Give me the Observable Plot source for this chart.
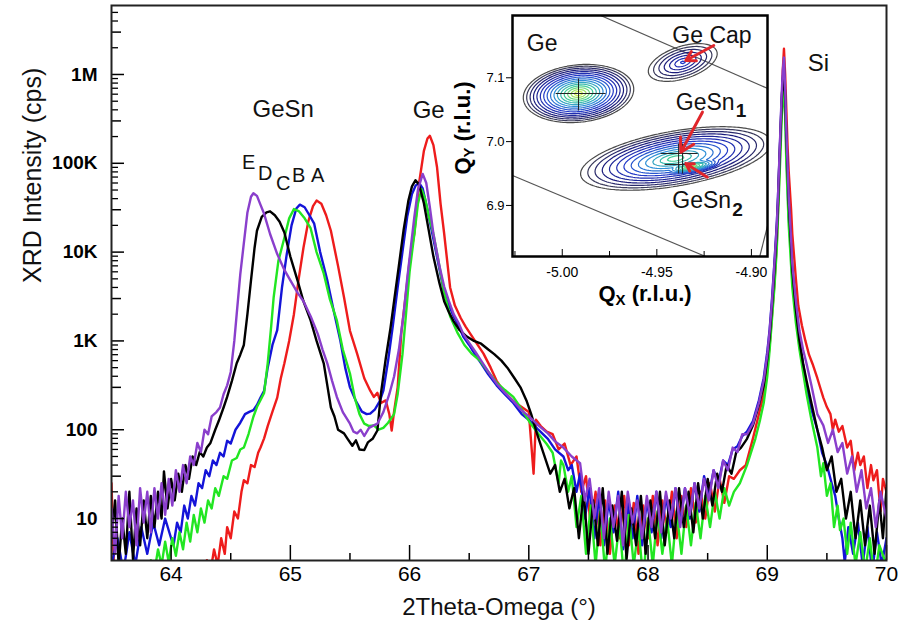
<!DOCTYPE html>
<html><head><meta charset="utf-8">
<script src="https://cdn.jsdelivr.net/npm/d3@7"></script>
<script src="https://cdn.jsdelivr.net/npm/@observablehq/plot@0.6"></script>
<style>
body{margin:0;background:#fff;}
#wrap{position:relative;width:900px;height:621px;font-family:"Liberation Sans",Arial,sans-serif;overflow:hidden;}
#wrap svg{position:absolute;}
.lab{position:absolute;font-weight:bold;font-size:22px;color:#000;white-space:nowrap;line-height:1;}
.lab sub{font-size:15px;vertical-align:-4px;}
</style></head><body><div id="wrap"></div><script>
// ---------------- main chart data: [2Theta (deg), intensity (cps)] ----------------
const seriesA = [[63.50,25],[63.52,3],[63.55,2],[64.25,2],[64.30,3.4],[64.33,2.5],[64.36,4.5],[64.39,3],[64.42,6],[64.45,4],[64.47,8],[64.50,6],[64.53,12],[64.56,10],[64.59,20],[64.61,27],[64.64,25],[64.67,40],[64.70,38],[64.73,55],[64.75,63],[64.78,80],[64.81,110],[64.85,160],[64.89,230],[64.92,380],[64.95,560],[64.99,1000],[65.03,2000],[65.07,5000],[65.11,11200],[65.15,22000],[65.19,33000],[65.22,38000],[65.26,35000],[65.30,26000],[65.34,17400],[65.40,7000],[65.45,3100],[65.50,1300],[65.56,720],[65.62,380],[65.67,275],[65.70,234],[65.73,260],[65.76,200],[65.80,214],[65.83,150],[65.85,98],[65.87,160],[65.90,300],[65.93,1200],[65.97,3500],[66.00,8000],[66.04,16200],[66.08,60000],[66.12,138000],[66.15,190000],[66.17,204000],[66.20,160000],[66.23,91000],[66.26,35000],[66.29,16200],[66.34,4000],[66.38,2500],[66.43,1800],[66.47,1450],[66.51,1200],[66.56,950],[66.62,720],[66.68,500],[66.73,355],[66.80,260],[66.87,210],[66.94,180],[67.00,158],[67.04,32],[67.06,130],[67.10,110],[67.15,95],[67.20,89],[67.25,60],[67.30,70],[67.35,40],[67.40,50],[67.44,20],[67.48,30],[67.52,8],[67.56,20],[67.60,5],[67.64,16],[67.68,4],[67.72,14],[67.76,6],[67.80,18],[67.84,5],[67.88,15],[67.92,4],[67.96,14],[68.00,6],[68.04,18],[68.08,5],[68.12,16],[68.16,7],[68.20,20],[68.24,6],[68.28,18],[68.32,8],[68.36,22],[68.40,9],[68.44,20],[68.48,10],[68.52,25],[68.56,12],[68.60,28],[68.64,15],[68.68,30],[68.72,28],[68.77,35],[68.82,40],[68.88,80],[68.93,150],[68.97,250],[69.00,500],[69.02,900],[69.04,2000],[69.06,4500],[69.08,13000],[69.09,30000],[69.10,70000],[69.11,170000],[69.12,400000],[69.13,1100000],[69.14,1950000],[69.15,1000000],[69.16,400000],[69.17,160000],[69.18,80000],[69.20,30000],[69.21,16000],[69.24,5000],[69.26,2500],[69.29,1500],[69.32,1000],[69.35,700],[69.38,550],[69.42,380],[69.45,280],[69.47,230],[69.50,180],[69.53,150],[69.55,100],[69.57,130],[69.60,95],[69.63,110],[69.67,63],[69.70,75],[69.73,35],[69.76,55],[69.78,40],[69.81,50],[69.84,22],[69.87,40],[69.89,27],[69.92,35],[69.95,12],[69.97,28],[70.00,20]];

const seriesB = [[63.50,3],[63.55,6],[63.60,2.5],[63.65,7],[63.70,3],[63.75,8],[63.80,4],[63.85,9],[63.90,5],[63.95,10],[64.00,6],[64.02,5],[64.05,9],[64.08,7],[64.11,14],[64.14,10],[64.17,18],[64.20,14],[64.23,25],[64.26,22],[64.29,35],[64.32,30],[64.35,45],[64.38,40],[64.41,55],[64.44,50],[64.47,75],[64.50,70],[64.54,100],[64.58,120],[64.62,150],[64.66,160],[64.69,166],[64.72,190],[64.75,230],[64.78,275],[64.81,500],[64.85,900],[64.89,1320],[64.93,4000],[64.97,9500],[65.01,20000],[65.05,31000],[65.08,34200],[65.12,32000],[65.16,26000],[65.20,20900],[65.25,10000],[65.31,4800],[65.36,2300],[65.42,1000],[65.46,500],[65.50,300],[65.55,210],[65.60,160],[65.64,150],[65.67,152],[65.71,170],[65.75,210],[65.78,275],[65.82,600],[65.86,1500],[65.90,4000],[65.94,10000],[65.98,25000],[66.02,45000],[66.05,56000],[66.08,60000],[66.11,52000],[66.15,30000],[66.20,14000],[66.25,6500],[66.29,3500],[66.33,2500],[66.37,1900],[66.41,1500],[66.45,1120],[66.50,900],[66.55,700],[66.60,560],[66.66,420],[66.73,316],[66.80,250],[66.87,200],[66.94,150],[67.01,126],[67.08,100],[67.16,79],[67.22,60],[67.29,50],[67.33,35],[67.36,40],[67.40,20],[67.43,32],[67.47,10],[67.51,22],[67.55,6],[67.59,18],[67.63,5],[67.67,16],[67.71,7],[67.75,20],[67.79,4.5],[67.83,15],[67.87,6],[67.91,18],[67.95,5],[67.99,16],[68.03,7],[68.07,20],[68.11,6],[68.15,18],[68.19,8],[68.23,22],[68.27,9],[68.31,22],[68.35,10],[68.39,25],[68.43,12],[68.47,30],[68.51,18],[68.55,35],[68.59,25],[68.63,45],[68.67,40],[68.71,60],[68.75,65],[68.79,85],[68.83,95],[68.88,125],[68.93,215],[68.97,380],[69.00,750],[69.02,1350],[69.04,3000],[69.06,7600],[69.08,21000],[69.09,42000],[69.10,95000],[69.11,220000],[69.12,500000],[69.13,850000],[69.14,1000000],[69.15,450000],[69.16,150000],[69.17,60000],[69.18,25000],[69.20,10000],[69.21,5500],[69.24,1900],[69.27,1000],[69.30,550],[69.33,316],[69.37,170],[69.42,100],[69.46,55],[69.50,40],[69.54,25],[69.57,18],[69.60,10],[69.63,6],[69.65,3.2],[69.68,8],[69.72,4],[69.76,9],[69.80,3],[69.84,8],[69.88,2.5],[69.92,7],[69.96,3],[70.00,6]];

const seriesC = [[63.50,2],[63.80,2],[63.83,3.4],[63.86,2.5],[63.89,4.5],[63.92,3],[63.95,5.5],[63.98,3.2],[64.01,6],[64.04,3.8],[64.07,7],[64.10,4.5],[64.13,9],[64.16,5.5],[64.19,11],[64.22,7],[64.25,13],[64.28,9],[64.31,16],[64.34,13],[64.37,22],[64.40,18],[64.44,30],[64.47,28],[64.51,45],[64.55,48],[64.58,60],[64.61,63],[64.65,90],[64.69,140],[64.72,180],[64.76,230],[64.78,260],[64.81,560],[64.84,1500],[64.86,3100],[64.90,8000],[64.95,14500],[64.99,24000],[65.03,30500],[65.07,29000],[65.12,24000],[65.17,18600],[65.22,10000],[65.28,5750],[65.33,3000],[65.39,1700],[65.44,800],[65.50,430],[65.54,230],[65.58,150],[65.62,117],[65.66,110],[65.70,112],[65.74,100],[65.78,105],[65.82,120],[65.87,150],[65.90,250],[65.94,700],[65.97,2000],[66.00,6000],[66.04,16000],[66.07,35000],[66.10,51000],[66.13,40000],[66.16,26000],[66.20,16000],[66.25,7000],[66.29,3500],[66.34,1900],[66.40,1250],[66.46,900],[66.52,720],[66.59,600],[66.66,450],[66.73,340],[66.80,280],[66.87,234],[66.94,170],[67.01,120],[67.08,90],[67.15,69],[67.20,55],[67.25,25],[67.27,45],[67.29,40],[67.33,20],[67.36,30],[67.40,8],[67.44,18],[67.48,4],[67.52,14],[67.56,3],[67.60,12],[67.64,2.5],[67.68,10],[67.72,3],[67.76,9],[67.80,2],[67.84,11],[67.88,3],[67.92,8],[67.96,2],[68.00,10],[68.04,3],[68.08,12],[68.12,4],[68.16,10],[68.20,3],[68.24,12],[68.28,4],[68.32,14],[68.36,5],[68.40,15],[68.44,6],[68.48,18],[68.52,8],[68.56,20],[68.60,10],[68.64,22],[68.68,14],[68.72,20],[68.77,25],[68.83,40],[68.90,79],[68.94,130],[68.97,200],[69.00,400],[69.02,800],[69.04,1800],[69.06,4000],[69.08,11000],[69.09,25000],[69.10,55000],[69.11,125000],[69.12,300000],[69.13,550000],[69.14,630000],[69.15,350000],[69.16,100000],[69.17,45000],[69.18,20000],[69.20,7000],[69.21,4000],[69.24,1600],[69.27,800],[69.30,450],[69.33,250],[69.37,130],[69.42,63],[69.45,30],[69.47,42],[69.50,18],[69.53,25],[69.56,8],[69.59,14],[69.61,7.4],[69.64,10],[69.67,4],[69.70,9],[69.74,3],[69.78,7],[69.82,2.5],[69.86,6],[69.90,2],[69.94,5],[70.00,3]];

const seriesD = [[63.50,6],[63.53,16],[63.56,3],[63.59,10],[63.62,4],[63.65,20],[63.68,3.5],[63.71,13],[63.74,5],[63.77,16],[63.80,6],[63.83,18],[63.86,8],[63.89,20],[63.92,10],[63.94,34],[63.97,13],[64.00,28],[64.03,16],[64.06,32],[64.09,20],[64.12,40],[64.15,28],[64.18,50],[64.21,40],[64.24,56],[64.27,50],[64.30,63],[64.33,71],[64.37,100],[64.40,126],[64.44,178],[64.47,234],[64.51,355],[64.55,560],[64.58,700],[64.61,900],[64.64,2000],[64.67,4800],[64.70,11200],[64.72,17400],[64.76,25000],[64.80,28000],[64.83,28800],[64.87,26000],[64.91,22000],[64.95,16600],[65.00,8900],[65.06,4800],[65.11,2800],[65.17,1700],[65.22,1000],[65.28,560],[65.31,316],[65.34,178],[65.37,141],[65.40,100],[65.45,91],[65.48,79],[65.52,66],[65.55,76],[65.58,60],[65.62,59],[65.65,72],[65.69,79],[65.73,98],[65.76,257],[65.80,630],[65.84,1400],[65.87,2800],[65.91,7000],[65.95,17800],[65.99,38000],[66.02,55000],[66.05,64500],[66.08,57500],[66.12,35500],[66.16,17800],[66.20,8900],[66.25,4500],[66.29,2800],[66.33,2100],[66.37,1660],[66.42,1320],[66.48,1120],[66.54,1000],[66.60,930],[66.66,800],[66.71,710],[66.77,600],[66.82,500],[66.88,380],[66.93,300],[66.98,214],[67.02,150],[67.07,89],[67.12,56],[67.18,32],[67.22,40],[67.26,20],[67.30,28],[67.34,13],[67.38,22],[67.42,6],[67.46,20],[67.50,4],[67.54,16],[67.58,5],[67.62,22],[67.66,4],[67.70,14],[67.74,5.6],[67.78,20],[67.82,3.5],[67.86,13],[67.90,5],[67.94,18],[67.98,4],[68.02,16],[68.06,6],[68.10,20],[68.14,5],[68.18,16],[68.22,6],[68.26,22],[68.30,8],[68.34,20],[68.38,7],[68.42,25],[68.46,10],[68.50,28],[68.54,14],[68.58,32],[68.62,20],[68.66,40],[68.70,32],[68.74,56],[68.78,63],[68.83,79],[68.88,112],[68.93,190],[68.97,316],[69.00,630],[69.02,1120],[69.04,2500],[69.06,6300],[69.08,17800],[69.09,35500],[69.10,89000],[69.11,200000],[69.12,450000],[69.13,900000],[69.14,1200000],[69.15,560000],[69.16,200000],[69.17,89000],[69.18,35500],[69.20,11200],[69.21,6300],[69.24,2240],[69.27,1000],[69.30,560],[69.33,355],[69.37,200],[69.42,100],[69.46,63],[69.50,35],[69.54,50],[69.58,20],[69.62,28],[69.66,10],[69.70,20],[69.74,6],[69.78,16],[69.82,5],[69.86,14],[69.90,4],[69.94,16],[69.97,6],[70.00,22]];

const seriesE = [[63.50,13],[63.53,4],[63.56,18],[63.59,6],[63.62,20],[63.65,8],[63.68,16],[63.71,5],[63.74,22],[63.77,9],[63.80,20],[63.83,7],[63.86,22],[63.89,10],[63.92,25],[63.95,11],[63.98,28],[64.01,14],[64.04,35],[64.07,20],[64.10,40],[64.13,25],[64.16,50],[64.19,40],[64.22,71],[64.25,56],[64.28,100],[64.31,89],[64.34,141],[64.38,158],[64.41,178],[64.44,251],[64.47,316],[64.50,447],[64.53,1000],[64.55,2000],[64.58,5600],[64.61,12600],[64.64,28000],[64.67,42000],[64.69,46000],[64.72,43000],[64.75,34000],[64.78,27000],[64.83,16000],[64.89,9500],[64.95,6300],[65.00,4800],[65.06,3500],[65.11,2800],[65.17,1900],[65.23,1200],[65.27,800],[65.31,560],[65.35,355],[65.39,234],[65.44,158],[65.50,117],[65.53,95],[65.56,91],[65.59,100],[65.62,85],[65.66,105],[65.70,112],[65.73,117],[65.78,158],[65.83,251],[65.87,398],[65.91,794],[65.95,2000],[65.98,5000],[66.01,11200],[66.04,25000],[66.07,50000],[66.11,76000],[66.14,60000],[66.17,32000],[66.20,16000],[66.25,7000],[66.29,4100],[66.33,2800],[66.37,2000],[66.41,1600],[66.45,1200],[66.50,950],[66.55,760],[66.60,600],[66.66,450],[66.73,330],[66.80,260],[66.87,210],[66.94,165],[67.01,138],[67.08,112],[67.16,91],[67.22,74],[67.29,63],[67.36,50],[67.43,42],[67.47,16],[67.51,28],[67.55,10],[67.59,22],[67.63,6],[67.67,20],[67.71,8],[67.75,18],[67.79,5],[67.83,20],[67.87,9],[67.91,16],[67.95,6],[67.99,18],[68.03,8],[68.07,20],[68.11,7],[68.15,20],[68.19,10],[68.23,22],[68.27,8],[68.31,22],[68.35,11],[68.39,25],[68.43,13],[68.47,28],[68.51,16],[68.55,35],[68.59,22],[68.63,45],[68.67,35],[68.71,63],[68.75,56],[68.79,89],[68.83,89],[68.88,117],[68.93,200],[68.97,355],[69.00,700],[69.02,1300],[69.04,2800],[69.06,7400],[69.08,20000],[69.09,42000],[69.10,100000],[69.11,234000],[69.12,560000],[69.13,1100000],[69.14,1550000],[69.15,700000],[69.16,234000],[69.17,100000],[69.18,42000],[69.20,14000],[69.21,7400],[69.24,2800],[69.27,1300],[69.30,800],[69.33,550],[69.37,316],[69.42,150],[69.47,112],[69.51,71],[69.55,100],[69.59,56],[69.63,71],[69.67,32],[69.71,50],[69.75,20],[69.79,35],[69.83,13],[69.87,22],[69.91,8],[69.95,20],[70.00,10]];

const seriesNames = ["A", "B", "C", "D", "E"];
const seriesColors = ["#ee1c1c", "#1414d8", "#22e622", "#000000", "#8a3fcc"];
const seriesData = [seriesA, seriesB, seriesC, seriesD, seriesE];

const xTicks = [64, 65, 66, 67, 68, 69, 70];
const xMinorTicks = [64.5, 65.5, 66.5, 67.5, 68.5, 69.5];
const yTickValues = [10, 30, 100, 300, 1e3, 3e3, 1e4, 3e4, 1e5, 3e5, 1e6];
const yTickLabels = ["10", "3", "100", "3", "1K", "3", "10K", "3", "100K", "3", "1M"];

const peakLabels = [
  {text: "GeSn", x: 64.94, y: 4.1e5},
  {text: "Ge", x: 66.16, y: 3.9e5},
  {text: "Si", x: 69.43, y: 1.32e6}
];
const sampleLabels = [
  {text: "E", x: 64.65, y: 1.03e5},
  {text: "D", x: 64.79, y: 7.7e4},
  {text: "C", x: 64.94, y: 5.9e4},
  {text: "B", x: 65.07, y: 7.2e4},
  {text: "A", x: 65.23, y: 7.2e4}
];

// ---------------- inset (reciprocal space map) ----------------
const rsmPeaks = [
  {name: "Ge", qx: -4.9914, qy: 7.0754, a: 58, b: 30, angle: 6, peak: 5.6},
  {name: "Ge Cap", qx: -4.9363, qy: 7.1240, a: 40, b: 18, angle: 18, peak: 2.4},
  {name: "GeSn", qx: -4.9400, qy: 6.9736, a: 102, b: 29, angle: 10, peak: 4.6},
  {name: "GeSn core", qx: -4.9320, qy: 6.9610, a: 48, b: 10, angle: 10, peak: 5.3}
];
const rsmXTicks = [-5.00, -4.95, -4.90];
const rsmXMinorTicks = [-5.025, -4.975, -4.925];
const rsmYTicks = [6.9, 7.0, 7.1];
const rsmGuideLines = [
  {x1: -4.9797, y1: 7.1976, x2: -4.8914, y2: 7.0832},
  {x1: -5.0263, y1: 6.9470, x2: -4.9242, y2: 6.8200},
  {x1: -4.8956, y1: 6.8200, x2: -4.8914, y2: 6.8690}
];
const rsmCrossLines = [
  {x1: -5.0035, y1: 7.0754, x2: -4.9771, y2: 7.0754},
  {x1: -4.9914, y1: 7.0989, x2: -4.9914, y2: 7.0488},
  {x1: -4.9480, y1: 6.9814, x2: -4.9284, y2: 6.9814},
  {x1: -4.9459, y1: 6.9642, x2: -4.9305, y2: 6.9642},
  {x1: -4.9385, y1: 6.9970, x2: -4.9385, y2: 6.9500},
  {x1: -4.9364, y1: 6.9970, x2: -4.9364, y2: 6.9500}
];
const rsmArrows = [
  {x1: -4.9199, y1: 7.1506, x2: -4.9347, y2: 7.1271},
  {x1: -4.9259, y1: 7.0461, x2: -4.9373, y2: 6.9835},
  {x1: -4.9233, y1: 6.9443, x2: -4.9347, y2: 6.9658}
];
const rsmCenterLabels = [
  {text: "Ge", x: -5.0106, y: 7.1533}
];
const rsmStartLabels = [
  {text: "Ge Cap", x: -4.9418, y: 7.1662},
  {text: "GeSn", x: -4.9400, y: 7.0618},
  {text: "GeSn", x: -4.9418, y: 6.9078}
];
const rsmSubLabels = [
  {text: "1", x: -4.9400, y: 7.0618},
  {text: "2", x: -4.9418, y: 6.9078}
];

const FONT = '"Liberation Sans", Arial, Helvetica, sans-serif';
const wrap = document.getElementById("wrap");

// ---------- main plot ----------
const yMinor = [];
for (let k = 0; k <= 6; k++) for (let m = 2; m <= 9; m++) {
  const v = m * Math.pow(10, k);
  if (m !== 3 && v > 3.4 && v < 5.9e6) yMinor.push(v);
}
const yMajor = yTickValues.filter((d, i) => yTickLabels[i] !== "3");
const yThree = yTickValues.filter((d, i) => yTickLabels[i] === "3").concat([3e6]);
const labelOf = new Map(yTickValues.map((d, i) => [d, yTickLabels[i]]));

const lineMarks = seriesData.map((s, i) => Plot.line(s, {
  x: d => d[0], y: d => d[1], stroke: seriesColors[i], strokeWidth: 2.4,
  strokeLinejoin: "round", clip: true
}));

const main = Plot.plot({
  width: 900, height: 621,
  marginLeft: 111, marginRight: 14, marginTop: 5, marginBottom: 61,
  style: {fontFamily: FONT, background: "white", color: "#000", overflow: "visible"},
  x: {domain: [63.5, 70]},
  y: {type: "log", domain: [3.37, 5.98e6]},
  marks: [
    ...lineMarks,
    Plot.axisX({ticks: xTicks, label: null, tickSize: 0, tickPadding: 6, fontSize: 21, tickFormat: d => String(d)}),
    Plot.axisX({ticks: xTicks, label: null, tickSize: -15, tickFormat: () => "", strokeWidth: 1.5}),
    Plot.axisX({ticks: xMinorTicks, label: null, tickSize: -7, tickFormat: () => "", strokeWidth: 1.5}),
    Plot.axisY({ticks: yTickValues, label: null, tickSize: 0, tickPadding: 14, fontSize: 19, fontWeight: "bold", tickFormat: d => labelOf.get(d)}),
    Plot.axisY({ticks: yMajor, label: null, tickSize: -13, tickFormat: () => "", strokeWidth: 1.5}),
    Plot.axisY({ticks: yThree, label: null, tickSize: -10, tickFormat: () => "", strokeWidth: 1.5}),
    Plot.axisY({ticks: yMinor, label: null, tickSize: -7, tickFormat: () => "", strokeWidth: 1.3}),
    Plot.frame({stroke: "#222", strokeWidth: 2}),
    Plot.text(peakLabels, {x: "x", y: "y", text: "text", fontSize: 24, fill: "#111"}),
    Plot.text(sampleLabels, {x: "x", y: "y", text: "text", fontSize: 20, fill: "#111"}),
    Plot.text(["2Theta-Omega (°)"], {frameAnchor: "bottom", dy: 47, lineAnchor: "middle", fontSize: 24, fill: "#111"}),
    Plot.text(["XRD Intensity (cps)"], {frameAnchor: "left", dx: -79, rotate: -90, fontSize: 25, fill: "#111"})
  ]
});
main.style.left = "0px"; main.style.top = "0px";
wrap.appendChild(main);

// ---------- inset ----------
const QX_PX = 1890, QY_PX = 638.5; // pixels per r.l.u. of the inset frame
function rsmLogIntensity(qx, qy) {
  let best = 0;
  for (const p of rsmPeaks) {
    const X = (qx - p.qx) * QX_PX, Y = (qy - p.qy) * QY_PX;
    const t = p.angle * Math.PI / 180;
    const u = X * Math.cos(t) + Y * Math.sin(t);
    const v = -X * Math.sin(t) + Y * Math.cos(t);
    const r = Math.hypot(u / p.a, v / p.b);
    best = Math.max(best, p.peak * (1 - r));
  }
  return best;
}
const rsmThresholds = d3.range(0.25, 5.6, 0.33);

const insetMarks = [
  Plot.frame({fill: "white", stroke: "none"}),
  Plot.link(rsmGuideLines, {x1: "x1", y1: "y1", x2: "x2", y2: "y2", stroke: "#555", strokeWidth: 1.2, clip: true})
];
if (Plot.contour) {
  insetMarks.push(Plot.contour({
    x1: -5.0263, x2: -4.8915, y1: 6.82, y2: 7.1976,
    value: rsmLogIntensity, stroke: "value", thresholds: rsmThresholds, strokeWidth: 1.2
  }));
}
insetMarks.push(
  Plot.link(rsmCrossLines, {x1: "x1", y1: "y1", x2: "x2", y2: "y2", stroke: "#222", strokeWidth: 1}),
  Plot.arrow(rsmArrows, {x1: "x1", y1: "y1", x2: "x2", y2: "y2", stroke: "#e0262b", strokeWidth: 3, headLength: 11, bend: 0}),
  Plot.text(rsmCenterLabels, {x: "x", y: "y", text: "text", fontSize: 23, fill: "#111"}),
  Plot.text(rsmStartLabels, {x: "x", y: "y", text: "text", textAnchor: "start", fontSize: 23, fill: "#111"}),
  Plot.text(rsmSubLabels, {x: "x", y: "y", text: "text", textAnchor: "start", dx: 60, dy: 9, fontSize: 19, fontWeight: "bold", fill: "#111"}),
  Plot.frame({stroke: "#000", strokeWidth: 2.5}),
  Plot.axisY({ticks: rsmYTicks, label: null, tickSize: 6, tickPadding: 2, fontSize: 13, tickFormat: d => d.toFixed(1)}),
  Plot.axisX({ticks: rsmXTicks, label: null, tickSize: 0, tickPadding: 11, fontSize: 14, tickFormat: d => d.toFixed(2)}),
  Plot.axisX({ticks: rsmXTicks, label: null, tickSize: -7, tickFormat: () => ""}),
  Plot.axisX({ticks: rsmXMinorTicks, label: null, tickSize: -5, tickFormat: () => ""})
);

const inset = Plot.plot({
  width: 317, height: 301,
  marginLeft: 60, marginRight: 2, marginTop: 1, marginBottom: 59,
  style: {fontFamily: FONT, background: "transparent", color: "#000", overflow: "visible"},
  x: {domain: [-5.0263, -4.8915]},
  y: {domain: [6.82, 7.1976]},
  color: {type: "linear", domain: [0.25, 1.2, 2.2, 3.2, 4.2, 5.3], range: ["#4a4a4a", "#1c1c7a", "#2236c8", "#2f8fd8", "#3fcf9a", "#d8f040"]},
  marks: insetMarks
});
inset.style.left = "452px"; inset.style.top = "14px";
wrap.appendChild(inset);

// inset axis titles with subscripts
const qx = document.createElement("div");
qx.className = "lab";
qx.innerHTML = "Q<sub>X</sub> (r.l.u.)";
qx.style.left = "645px"; qx.style.top = "295px"; qx.style.transform = "translate(-50%,-50%)";
wrap.appendChild(qx);
const qy = document.createElement("div");
qy.className = "lab";
qy.innerHTML = "Q<sub>Y</sub> (r.l.u.)";
qy.style.left = "464px"; qy.style.top = "128px"; qy.style.transform = "translate(-50%,-50%) rotate(-90deg)";
wrap.appendChild(qy);
</script></body></html>
